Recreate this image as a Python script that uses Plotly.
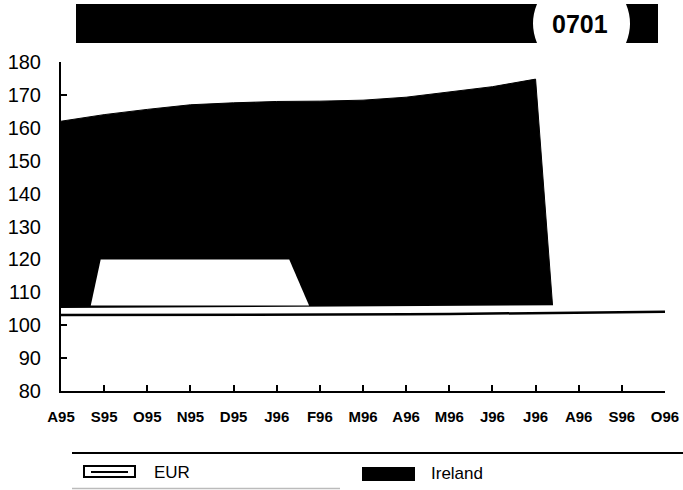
import plotly.graph_objects as go

# ---- data ----
month_labels = ["A95", "S95", "O95", "N95", "D95", "J96", "F96", "M96",
                "A96", "M96", "J96", "J96", "A96", "S96", "O96"]
month_index = list(range(len(month_labels)))

ireland_values = [162.0, 164.0, 165.6, 167.0, 167.6, 168.0, 168.1, 168.4,
                  169.3, 170.8, 172.5, 174.8, 0.0]
eur_values = [103.1, 103.1, 103.1, 103.1, 103.2, 103.2, 103.2, 103.2,
              103.3, 103.4, 103.5, 103.7, 103.8, 103.9, 104.1]

# white patch inside the Ireland area (scanned original)
patch_months = [0.69, 0.92, 5.29, 5.75]
patch_values = [106, 120, 120, 106]

y_ticks = list(range(80, 181, 10))

# ---- layout geometry (page pixels) ----
W, H = 683, 490
PLOT_X0, PLOT_X1, PLOT_Y0, PLOT_Y1 = 61, 665, 62, 391
L, R = PLOT_X0, W - PLOT_X1
T, B = PLOT_Y0, H - PLOT_Y1
PW, PH = PLOT_X1 - PLOT_X0, PLOT_Y1 - PLOT_Y0
FONT = "Liberation Sans, Arial, Helvetica, sans-serif"


def px(x):
    return (x - PLOT_X0) / PW


def py(y):
    return (PLOT_Y1 - y) / PH


fig = go.Figure()

fig.add_trace(go.Scatter(
    x=month_index[:len(ireland_values)], y=ireland_values, mode="lines",
    line=dict(color="black", width=1), fill="tozeroy", fillcolor="black",
    name="Ireland", showlegend=False, hoverinfo="skip"))

fig.add_trace(go.Scatter(
    x=patch_months, y=patch_values, mode="lines", fill="toself",
    fillcolor="white", line=dict(color="white", width=0),
    showlegend=False, hoverinfo="skip"))

fig.add_trace(go.Scatter(
    x=month_index, y=eur_values, mode="lines",
    line=dict(color="white", width=14), fill="tozeroy", fillcolor="white",
    showlegend=False, hoverinfo="skip"))

fig.add_trace(go.Scatter(
    x=month_index, y=eur_values, mode="lines",
    line=dict(color="black", width=2.5), name="EUR",
    showlegend=False, hoverinfo="skip"))

shapes = []
# title bar pieces
shapes.append(dict(type="path", xref="paper", yref="paper",
                   path=(f"M {px(76)},{py(4)} L {px(537)},{py(4)} "
                         f"Q {px(529)},{py(23.5)} {px(537)},{py(43)} "
                         f"L {px(76)},{py(43)} Z"),
                   fillcolor="black", line=dict(width=0)))
shapes.append(dict(type="path", xref="paper", yref="paper",
                   path=(f"M {px(626)},{py(4)} L {px(658)},{py(4)} "
                         f"L {px(658)},{py(43)} L {px(626)},{py(43)} "
                         f"Q {px(634)},{py(23.5)} {px(626)},{py(4)} Z"),
                   fillcolor="black", line=dict(width=0)))
# legend rules
shapes.append(dict(type="line", xref="paper", yref="paper",
                   x0=px(72), x1=px(683), y0=py(453), y1=py(453),
                   line=dict(color="black", width=2)))
shapes.append(dict(type="line", xref="paper", yref="paper",
                   x0=px(72), x1=px(340), y0=py(488.5), y1=py(488.5),
                   line=dict(color="#bbbbbb", width=1.5)))
# legend symbols
shapes.append(dict(type="rect", xref="paper", yref="paper",
                   x0=px(84), x1=px(135), y0=py(466), y1=py(477),
                   fillcolor="white", line=dict(color="black", width=2)))
shapes.append(dict(type="line", xref="paper", yref="paper",
                   x0=px(91), x1=px(128), y0=py(472), y1=py(472),
                   line=dict(color="black", width=2)))
shapes.append(dict(type="rect", xref="paper", yref="paper",
                   x0=px(362), x1=px(415), y0=py(467), y1=py(481),
                   fillcolor="black", line=dict(width=0)))

annotations = [
    dict(text="0701", xref="paper", yref="paper", x=px(580), y=py(24),
         xanchor="center", yanchor="middle", showarrow=False,
         font=dict(family=FONT, size=25, color="black", weight="bold")),
    dict(text="EUR", xref="paper", yref="paper", x=px(152), y=py(472),
         xanchor="left", yanchor="middle", showarrow=False,
         font=dict(family=FONT, size=17, color="black")),
    dict(text="Ireland", xref="paper", yref="paper", x=px(429), y=py(473),
         xanchor="left", yanchor="middle", showarrow=False,
         font=dict(family=FONT, size=17, color="black")),
]

fig.update_layout(
    width=W, height=H,
    margin=dict(l=L, r=R, t=T, b=B, pad=0, autoexpand=False),
    paper_bgcolor="white", plot_bgcolor="white",
    showlegend=False,
    shapes=shapes, annotations=annotations,
    xaxis=dict(range=[0, 14], tickmode="array", tickvals=month_index,
               ticktext=month_labels, showgrid=False, zeroline=False,
               automargin=False,
               showline=True, linecolor="black", linewidth=2,
               ticks="inside", ticklen=6, tickwidth=2, tickcolor="black",
               ticklabelstandoff=11,
               tickfont=dict(family=FONT, size=15, color="black",
                             weight="bold")),
    yaxis=dict(range=[80, 180], tickmode="array", tickvals=y_ticks,
               showgrid=False, zeroline=False, automargin=False,
               showline=True, linecolor="black", linewidth=2,
               ticks="inside", ticklen=6, tickwidth=2, tickcolor="black",
               ticklabelstandoff=14,
               tickfont=dict(family=FONT, size=20, color="black")),
)

fig.write_html(
    "out.html",
    config={"displayModeBar": False},
    post_script="document.body.style.margin='0';"
                "document.body.style.overflow='hidden';")
